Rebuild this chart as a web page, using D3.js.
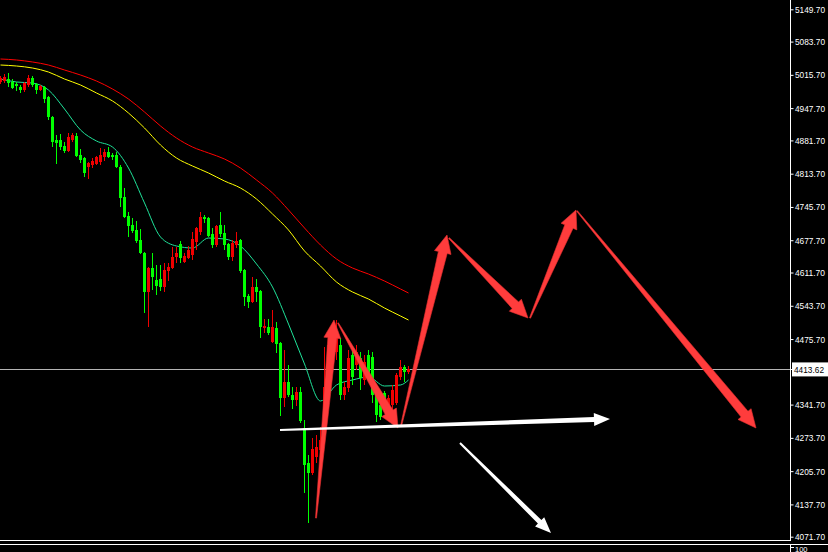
<!DOCTYPE html>
<html><head><meta charset="utf-8">
<script src="https://cdn.jsdelivr.net/npm/d3@7/dist/d3.min.js"></script>
<style>html,body{margin:0;padding:0;background:#000;overflow:hidden}svg{display:block}</style>
</head><body><svg id="c" width="828" height="552"></svg>
<script>
// ---- data (prices) ----
// candles: [open, high, low, close], one per bar, bar index = position in array
const candles = [
[5001.1,5013.4,4997.0,5009.3],[5003.1,5017.4,4999.0,5011.3],[5007.2,5019.5,4990.9,4999.0],[5001.1,5007.2,4986.8,4988.8],
[4997.0,5001.1,4982.7,4992.9],[4990.9,4995.0,4978.6,4984.7],[4984.7,5001.1,4980.7,4999.0],[4995.0,5015.4,4990.9,5009.3],
[5009.3,5013.4,4990.9,4995.0],[4997.0,4999.0,4976.6,4984.7],[4984.7,4995.0,4982.7,4992.9],[4990.9,4992.9,4958.2,4966.3],
[4970.4,4972.5,4923.4,4929.6],[4929.6,4931.6,4868.2,4878.5],[4882.5,4892.8,4833.5,4876.4],[4882.5,4894.8,4862.1,4868.2],
[4870.3,4878.5,4856.0,4860.1],[4860.1,4896.8,4858.0,4888.7],[4882.5,4896.8,4878.5,4892.8],[4890.7,4896.8,4847.8,4849.8],
[4851.9,4864.1,4835.5,4841.7],[4845.7,4847.8,4806.9,4815.1],[4827.4,4837.6,4802.8,4835.5],[4831.4,4845.7,4825.3,4839.6],
[4833.5,4849.8,4831.4,4847.8],[4837.6,4866.2,4831.4,4851.9],[4847.8,4864.1,4839.6,4858.0],[4858.0,4868.2,4845.7,4847.8],
[4851.9,4856.0,4841.7,4847.8],[4851.9,4858.0,4825.3,4827.4],[4827.4,4831.4,4745.6,4764.0],[4766.0,4784.4,4723.1,4725.2],
[4727.2,4735.4,4684.3,4706.8],[4708.8,4723.1,4692.4,4696.5],[4698.6,4717.0,4672.0,4676.1],[4678.1,4700.6,4649.5,4651.6],
[4651.6,4653.6,4528.9,4571.9],[4571.9,4623.0,4500.3,4620.9],[4620.9,4651.6,4575.9,4602.5],[4596.4,4627.0,4565.7,4584.1],
[4598.4,4627.0,4573.9,4582.1],[4582.1,4631.1,4571.9,4616.8],[4614.8,4631.1,4594.3,4623.0],[4620.9,4663.8,4618.9,4643.4],
[4643.4,4663.8,4631.1,4651.6],[4670.0,4676.1,4631.1,4641.3],[4633.2,4651.6,4631.1,4645.4],[4641.3,4665.9,4639.3,4657.7],
[4647.5,4694.5,4637.3,4680.2],[4674.1,4704.7,4657.7,4702.7],[4694.5,4735.4,4688.4,4725.2],[4725.2,4729.2,4712.9,4721.1],
[4723.1,4725.2,4684.3,4686.3],[4690.4,4702.7,4661.8,4667.9],[4667.9,4708.8,4663.8,4706.8],[4708.8,4735.4,4684.3,4690.4],
[4692.4,4708.8,4657.7,4667.9],[4670.0,4672.0,4637.3,4643.4],[4643.4,4678.1,4635.2,4672.0],[4667.9,4694.5,4661.8,4676.1],
[4678.1,4680.2,4610.7,4614.8],[4616.8,4618.9,4543.2,4561.6],[4563.7,4567.8,4539.1,4551.4],[4551.4,4602.5,4549.4,4582.1],
[4582.1,4598.4,4551.4,4571.9],[4573.9,4575.9,4477.8,4500.3],[4498.3,4516.7,4488.0,4502.4],[4500.3,4516.7,4484.0,4488.0],
[4469.7,4535.1,4467.6,4500.3],[4498.3,4510.5,4447.2,4465.6],[4467.6,4469.7,4318.4,4355.2],[4355.2,4453.3,4336.8,4387.9],
[4387.9,4422.6,4357.2,4361.3],[4361.3,4377.7,4332.7,4351.1],[4351.1,4377.7,4338.8,4367.5],[4367.5,4377.7,4304.1,4308.2],
[4293.9,4310.2,4161.0,4218.2],[4222.3,4238.7,4099.7,4201.9],[4201.9,4273.4,4197.8,4250.9],[4234.6,4279.6,4222.3,4255.0],
[4248.9,4295.9,4244.8,4269.3],[4293.9,4459.4,4289.8,4377.7],[4371.5,4484.0,4361.3,4463.5],[4457.4,4504.4,4449.2,4484.0],
[4449.2,4514.6,4432.9,4479.9],[4463.5,4477.8,4351.1,4361.3],[4361.3,4387.9,4351.1,4377.7],[4375.6,4453.3,4367.5,4436.9],
[4443.1,4453.3,4381.8,4398.1],[4422.6,4463.5,4412.4,4449.2],[4436.9,4449.2,4371.5,4396.1],[4392.0,4443.1,4381.8,4428.8],
[4443.1,4453.3,4392.0,4398.1],[4439.0,4449.2,4345.0,4361.3],[4365.4,4371.5,4306.1,4320.4],[4340.9,4351.1,4310.2,4316.4],
[4365.4,4369.5,4330.7,4340.9],[4330.7,4361.3,4324.5,4355.2],[4340.9,4381.8,4330.7,4371.5],[4345.0,4406.3,4340.9,4402.2],
[4398.1,4432.9,4392.0,4418.6],[4418.6,4422.6,4387.9,4408.3],[4408.3,4420.6,4404.2,4413.62]
];
// moving averages, sampled at these bar indices
const maBars   = [0,4,8,12,16,20,24,28,32,36,40,44,48,52,56,60,64,68,72,76,80,84,88,92,96,100,102];
const maFast   = [5007.2,5001.1,4999.0,4984.7,4945.9,4903.0,4880.5,4868.2,4825.3,4753.8,4684.3,4665.9,4661.8,4682.2,4680.2,4665.9,4629.1,4582.1,4506.4,4424.7,4349.1,4381.8,4392.0,4398.1,4379.7,4381.8,4392.0];
const maMid    = [5035.8,5033.8,5029.7,5021.5,5007.2,4995.0,4978.6,4962.3,4937.7,4907.1,4872.3,4845.7,4829.4,4815.1,4798.7,4784.4,4761.9,4731.3,4698.6,4655.7,4625.0,4592.3,4571.9,4557.5,4539.1,4522.8,4514.6];
const maSlow   = [5048.1,5046.1,5042.0,5035.8,5025.6,5015.4,5003.1,4986.8,4966.3,4939.8,4911.2,4886.6,4868.2,4856.0,4843.7,4825.3,4800.8,4774.2,4739.5,4702.7,4667.9,4639.3,4620.9,4608.6,4594.3,4578.0,4569.8];
// price axis
const priceTicks = [5149.7,5083.7,5015.7,4947.7,4881.7,4813.7,4745.7,4677.7,4611.7,4543.7,4475.7,4341.7,4273.7,4205.7,4137.7,4071.7];
const currentPrice = 4413.62;
const subLabel = "100";
// drawn arrows: [barFrom, priceFrom, barTo, priceTo]
const redArrows = [
  [79,4109.9,83.5,4514.6],
  [84.5,4508.5,99.5,4293.9],
  [100.25,4298.0,111.75,4688.4],
  [112.25,4682.2,132,4518.7],
  [132.5,4518.7,144,4739.5],
  [144.25,4737.4,189,4293.9]
];
const whiteArrows = [
  [70,4289.8,152.5,4312.3],
  [115,4263.2,137.75,4079.2]
];

// ---- drawing ----
const W = 828, H = 552, plotRight = 790;
const FONT = "Liberation Sans, Arial, sans-serif";
const svg = d3.select("#c");
svg.append("rect").attr("width",W).attr("height",H).attr("fill","#000");

const x = d3.scaleLinear().domain([0, 1]).range([0, 4]);
const y = d3.scaleLinear().domain([4071.7, 5149.7]).range([536.7, 9.3]);

const plot = svg.append("g");

// current price line
plot.append("line").attr("x1",0).attr("x2",plotRight).attr("y1",Math.round(y(currentPrice))+0.5).attr("y2",Math.round(y(currentPrice))+0.5)
  .attr("stroke","#b4b4b4").attr("stroke-width",1);

// moving averages
const maLine = d3.line().x((d,i)=>x(maBars[i])+0.5).y(d=>y(d)).curve(d3.curveMonotoneX);
[[maSlow,"#ff0000"],[maMid,"#ffff00"],[maFast,"#1fe39a"]].forEach(([arr,col])=>{
  plot.append("path").datum(arr).attr("d",maLine).attr("fill","none").attr("stroke",col).attr("stroke-width",1);
});

// candles
const cg = plot.append("g").attr("shape-rendering","crispEdges");
candles.forEach((c,i)=>{
  const [o,h,l,cl] = c;
  const col = cl >= o ? "#f00000" : "#00ff00";
  const cx = Math.round(x(i));
  cg.append("rect").attr("x",cx).attr("width",1)
    .attr("y",Math.round(y(h))).attr("height",Math.max(1,Math.round(y(l))-Math.round(y(h))))
    .attr("fill",col);
  const top = Math.round(y(Math.max(o,cl))), bot = Math.round(y(Math.min(o,cl)));
  cg.append("rect").attr("x",cx-1).attr("width",3)
    .attr("y",top).attr("height",Math.max(1,bot-top)).attr("fill",col);
});

// arrows
function arrowPath(x1,y1,x2,y2,tw,sw,hw,hl){
  const dx=x2-x1, dy=y2-y1, L=Math.hypot(dx,dy), ux=dx/L, uy=dy/L, nx=-uy, ny=ux;
  const bx=x2-ux*hl, by=y2-uy*hl;
  const p=[[x1+nx*tw/2,y1+ny*tw/2],[bx+nx*sw/2,by+ny*sw/2],[bx+nx*hw/2,by+ny*hw/2],[x2,y2],
           [bx-nx*hw/2,by-ny*hw/2],[bx-nx*sw/2,by-ny*sw/2],[x1-nx*tw/2,y1-ny*tw/2]];
  return "M"+p.map(q=>q[0].toFixed(1)+","+q[1].toFixed(1)).join("L")+"Z";
}
const ag = plot.append("g");
redArrows.forEach(a=>{
  ag.append("path").attr("d",arrowPath(x(a[0]),y(a[1]),x(a[2]),y(a[3]),1,9,17,18))
    .attr("fill","#ff3c3c").attr("stroke","#e83030").attr("stroke-width",0.6);
});
whiteArrows.forEach(a=>{
  ag.append("path").attr("d",arrowPath(x(a[0]),y(a[1]),x(a[2]),y(a[3]),2,5,13,16))
    .attr("fill","#ffffff");
});

// borders
svg.append("line").attr("x1",0).attr("x2",plotRight+1).attr("y1",540.5).attr("y2",540.5).attr("stroke","#fff");
svg.append("line").attr("x1",0).attr("x2",W).attr("y1",544.5).attr("y2",544.5).attr("stroke","#fff");

// price axis
const axis = d3.axisRight(y).tickValues(priceTicks).tickFormat(d3.format(".2f")).tickSize(3).tickPadding(1.5);
const ax = svg.append("g").attr("transform",`translate(${plotRight+0.5},0)`).call(axis);
ax.select(".domain").remove();
ax.selectAll(".tick line").attr("stroke","#fff");
ax.selectAll(".tick text").attr("fill","#fff").attr("font-family",FONT).attr("font-size","9.5px")
  .attr("textLength",30).attr("lengthAdjust","spacingAndGlyphs");
svg.append("line").attr("x1",plotRight+0.5).attr("x2",plotRight+0.5).attr("y1",0).attr("y2",541).attr("stroke","#fff");
svg.append("line").attr("x1",plotRight+0.5).attr("x2",plotRight+0.5).attr("y1",545).attr("y2",H).attr("stroke","#fff");

// current price label
const cpY = y(currentPrice);
svg.append("rect").attr("x",plotRight+2).attr("y",cpY-7).attr("width",W-plotRight-2).attr("height",14).attr("fill","#fff");
svg.append("line").attr("x1",plotRight).attr("x2",plotRight+4).attr("y1",Math.round(cpY)+0.5).attr("y2",Math.round(cpY)+0.5).attr("stroke","#fff");
svg.append("text").attr("x",plotRight+4).attr("y",cpY+3.5).text(d3.format(".2f")(currentPrice))
  .attr("fill","#000").attr("font-family",FONT).attr("font-size","9.5px")
  .attr("textLength",30).attr("lengthAdjust","spacingAndGlyphs");

// sub-window label
svg.append("line").attr("x1",plotRight).attr("x2",plotRight+4).attr("y1",547.5).attr("y2",547.5).attr("stroke","#fff");
svg.append("text").attr("x",plotRight+5).attr("y",551.5).text(subLabel)
  .attr("fill","#fff").attr("font-family",FONT).attr("font-size","7.5px");
</script></body></html>
